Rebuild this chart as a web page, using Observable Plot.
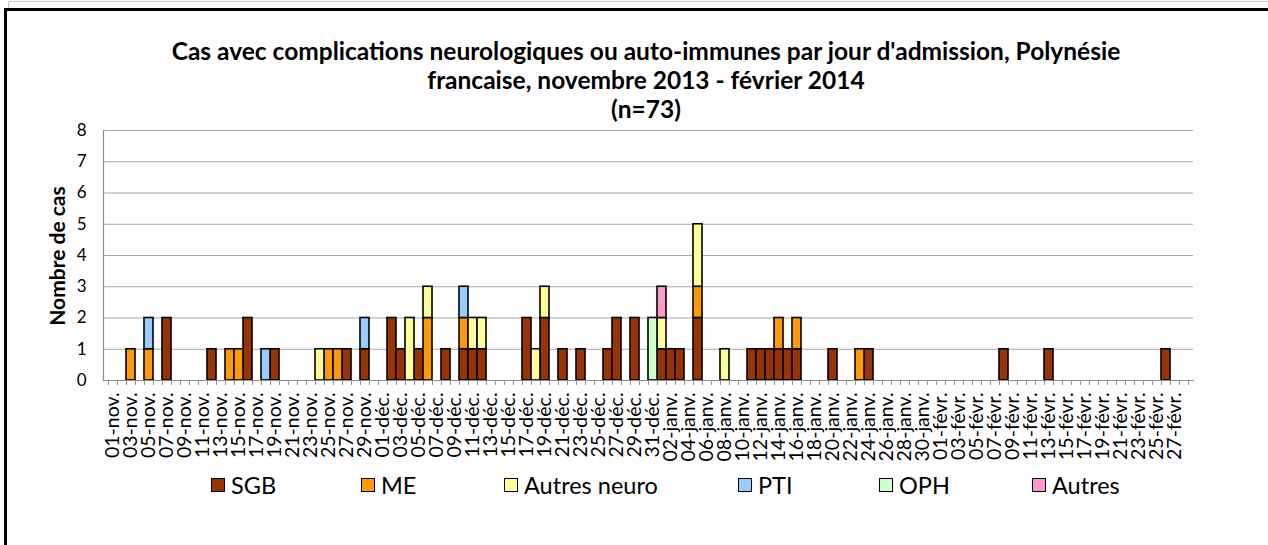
<!DOCTYPE html>
<html><head><meta charset="utf-8">
<script src="https://cdn.jsdelivr.net/npm/d3@7"></script>
<script src="https://cdn.jsdelivr.net/npm/@observablehq/plot@0.6"></script>
<style>
html,body{margin:0;padding:0;background:#fff;overflow:hidden;}
body{width:1268px;height:545px;position:relative;font-family:Lato,"Open Sans",sans-serif;}
#outer{position:absolute;left:8px;top:1px;width:1300px;height:600px;border:1px solid #c8c8c8;}
#box{position:absolute;left:4px;top:8px;width:1300px;height:600px;border:3px solid #000;background:#fff;}
#title{position:absolute;left:0;top:36px;width:1292px;text-align:center;font-weight:bold;font-size:24.5px;line-height:29px;color:#000;}
#ylab{position:absolute;left:56px;top:256px;transform:translate(-50%,-50%) rotate(-90deg);font-weight:bold;font-size:21px;white-space:nowrap;}
#chart{position:absolute;left:0;top:120px;}
.lg{position:absolute;top:473px;font-size:23.5px;line-height:24px;display:flex;align-items:center;white-space:nowrap;}
.lg span.sw{display:inline-block;width:12px;height:12px;border:1.5px solid #000;margin-right:6px;}
</style></head>
<body>
<div id="outer"></div>
<div id="box"></div>
<div id="title">Cas avec complications neurologiques ou auto-immunes par jour d'admission, Polynésie<br>francaise, novembre 2013 - février 2014<br>(n=73)</div>
<div id="ylab">Nombre de cas</div>
<div id="chart"></div>
<div id="legend"></div>
<script>
// Categories: months and their number of days
const monthNames = ["nov.", "déc.", "janv.", "févr."];
const monthLengths = [30, 31, 31, 28];
const yTicks = [0, 1, 2, 3, 4, 5, 6, 7, 8];

const seriesNames = ["SGB", "ME", "Autres neuro", "PTI", "OPH", "Autres"];
const seriesColors = ["#993300", "#FF9900", "#FFFF99", "#99CCFF", "#CCFFCC", "#FF99CC"];

const sgb = [["07-nov.",2],["12-nov.",1],["16-nov.",2],["19-nov.",1],["27-nov.",1],["29-nov.",1],
  ["02-déc.",2],["03-déc.",1],["05-déc.",1],["08-déc.",1],["10-déc.",1],["11-déc.",1],["12-déc.",1],
  ["17-déc.",2],["19-déc.",2],["21-déc.",1],["23-déc.",1],["26-déc.",1],["27-déc.",2],["29-déc.",2],
  ["01-janv.",1],["02-janv.",1],["03-janv.",1],["05-janv.",2],["11-janv.",1],["12-janv.",1],["13-janv.",1],
  ["14-janv.",1],["15-janv.",1],["16-janv.",1],["20-janv.",1],["24-janv.",1],
  ["08-févr.",1],["13-févr.",1],["26-févr.",1]];
const me = [["03-nov.",1],["05-nov.",1],["14-nov.",1],["15-nov.",1],["25-nov.",1],["26-nov.",1],
  ["06-déc.",2],["10-déc.",1],["05-janv.",1],["14-janv.",1],["16-janv.",1],["23-janv.",1]];
const autresNeuro = [["24-nov.",1],["04-déc.",2],["06-déc.",1],["11-déc.",1],["12-déc.",1],["18-déc.",1],
  ["19-déc.",1],["01-janv.",1],["05-janv.",2],["08-janv.",1]];
const pti = [["05-nov.",1],["18-nov.",1],["29-nov.",1],["10-déc.",1]];
const oph = [["31-déc.",2]];
const autres = [["01-janv.",1]];
const seriesValues = [sgb, me, autresNeuro, pti, oph, autres];

const days = [];
monthNames.forEach((m, i) => {
  for (let d = 1; d <= monthLengths[i]; d++) days.push(String(d).padStart(2, "0") + "-" + m);
});
const labelDays = days.filter((d, i) => i % 2 === 0);

const data = [];
seriesValues.forEach((arr, s) => arr.forEach(([day, n]) => data.push({day, count: n, series: seriesNames[s]})));

const W = 1268, mL = 103, mR = 75;
const bw = (W - mL - mR) / days.length;

const chart = Plot.plot({
  width: W, height: 360,
  marginTop: 10, marginBottom: 100, marginLeft: mL, marginRight: mR,
  style: {fontFamily: "Lato, 'Open Sans', sans-serif", fontSize: "15px", color: "#000", background: "transparent", overflow: "visible"},
  x: {type: "band", domain: days, padding: 0},
  y: {domain: [0, 8]},
  color: {domain: seriesNames, range: seriesColors},
  marks: [
    Plot.gridY(yTicks.slice(1), {stroke: "#a8a8a8", strokeOpacity: 1, strokeWidth: 1.2}),
    Plot.frame({anchor: "left", stroke: "#8c8c8c", strokeWidth: 1.2}),
    Plot.barY(data, Plot.stackY({x: "day", y: "count", fill: "series", order: seriesNames, stroke: "#000", strokeWidth: 1.6, inset: 0})),
    Plot.frame({anchor: "bottom", stroke: "#8c8c8c", strokeWidth: 1.2}),
    Plot.axisY({ticks: yTicks, tickSize: 0, tickPadding: 17, fontSize: 17, label: null}),
    Plot.axisX({ticks: days, tickSize: 5, tickFormat: () => "", dx: -bw / 2, stroke: "#8c8c8c", label: null}),
    Plot.axisX({ticks: [days[days.length - 1]], tickSize: 5, tickFormat: () => "", dx: bw / 2, stroke: "#8c8c8c", label: null}),
    Plot.axisX({ticks: labelDays, tickSize: 0, tickPadding: 12, tickRotate: -90, fontSize: 19.5, label: null})
  ]
});
document.getElementById("chart").appendChild(chart);

// Legend
const legendX = [211, 361, 504, 738, 879, 1032];
const lg = document.getElementById("legend");
seriesNames.forEach((name, i) => {
  const el = document.createElement("div");
  el.className = "lg";
  el.style.left = legendX[i] + "px";
  el.innerHTML = `<span class="sw" style="background:${seriesColors[i]}"></span>${name}`;
  lg.appendChild(el);
});
</script>
</body></html>
